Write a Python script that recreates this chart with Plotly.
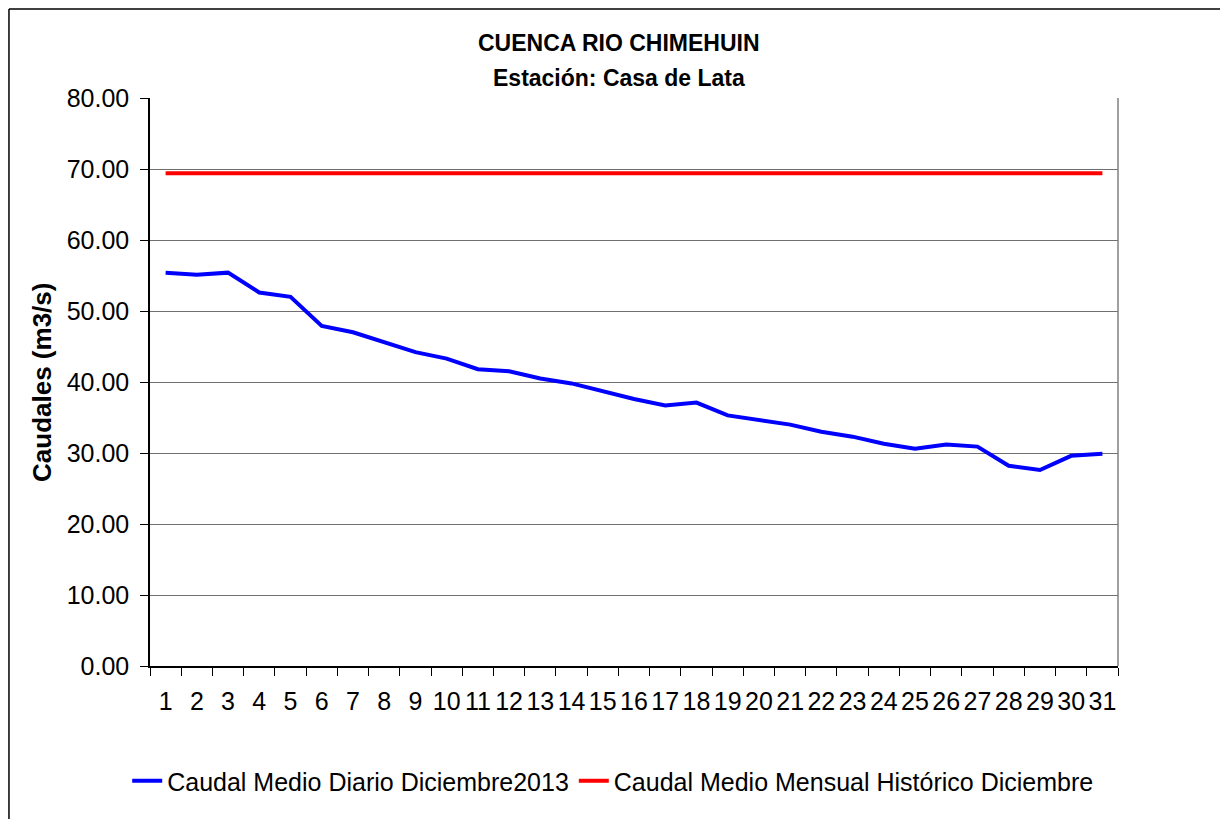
import plotly.graph_objects as go

# Data
dias = [str(d) for d in range(1, 32)]
caudal_diario = [55.4, 55.1, 55.4, 52.6, 52.0, 47.9, 47.0, 45.6, 44.2, 43.3,
                 41.8, 41.5, 40.5, 39.8, 38.7, 37.6, 36.7, 37.1, 35.3, 34.6,
                 34.0, 33.0, 32.3, 31.3, 30.6, 31.2, 30.9, 28.2, 27.6, 29.6, 29.9]
caudal_historico = [69.4] * 31

FONT = "Liberation Sans, Arial, sans-serif"

fig = go.Figure()

fig.add_trace(go.Scatter(
    x=dias, y=caudal_diario,
    mode='lines',
    name='Caudal Medio Diario Diciembre2013',
    line=dict(color='#0000FF', width=4),
))

fig.add_trace(go.Scatter(
    x=dias, y=caudal_historico,
    mode='lines',
    name='Caudal Medio Mensual Histórico Diciembre',
    line=dict(color='#FF0000', width=4),
))

# page has an 8px body margin; plot area lands at x 150..1118, y 98..666
fig.update_layout(
    width=1220, height=811,
    margin=dict(l=142, r=110, t=90, b=153),
    paper_bgcolor='white', plot_bgcolor='white',
    font=dict(family=FONT, size=25, color='black'),
    showlegend=True,
    legend=dict(
        orientation='h', x=0.478, xanchor='center', y=-0.2025, yanchor='middle',
        font=dict(size=25), traceorder='normal',
    ),
    annotations=[
        dict(text='<b>CUENCA RIO CHIMEHUIN</b>', xref='paper', yref='paper',
             x=0.4845, y=1.096, xanchor='center', yanchor='middle',
             showarrow=False, font=dict(size=23)),
        dict(text='<b>Estación: Casa de Lata</b>', xref='paper', yref='paper',
             x=0.4845, y=1.035, xanchor='center', yanchor='middle',
             showarrow=False, font=dict(size=23)),
        dict(text='<b>Caudales (m3/s)</b>', xref='paper', yref='paper',
             x=-0.1116, y=0.5, textangle=-90, showarrow=False,
             xanchor='center', yanchor='middle', font=dict(size=26)),
    ],
    shapes=[
        # outer chart border: only left and top edges are inside the page
        dict(type='line', xref='paper', yref='paper',
             x0=-0.1457, x1=-0.1457, y0=-0.3, y1=1.1567,
             line=dict(color='black', width=1.5)),
        dict(type='line', xref='paper', yref='paper',
             x0=-0.1457, x1=1.13, y0=1.1567, y1=1.1567,
             line=dict(color='black', width=1.5)),
        dict(type='line', xref='paper', yref='paper',
             x0=1, x1=1, y0=0, y1=1, line=dict(color='#808080', width=1.5)),
    ],
)

fig.update_xaxes(
    type='category', range=[-0.5, 30.5], tickangle=0,
    tickson='boundaries', ticks='outside', ticklen=8, tickcolor='black',
    showline=True, linecolor='black', linewidth=1.5,
    showgrid=False, tickfont=dict(size=25), ticklabelstandoff=12,
)

fig.update_yaxes(
    range=[0, 80], dtick=10, tickformat='.2f',
    ticks='outside', ticklen=8, tickcolor='black',
    showline=True, linecolor='black', linewidth=1.5,
    showgrid=True, gridcolor='#707070', gridwidth=1.2,
    zeroline=False, ticklabelstandoff=6,
    tickfont=dict(size=25),
)

fig.write_html("out.html")
